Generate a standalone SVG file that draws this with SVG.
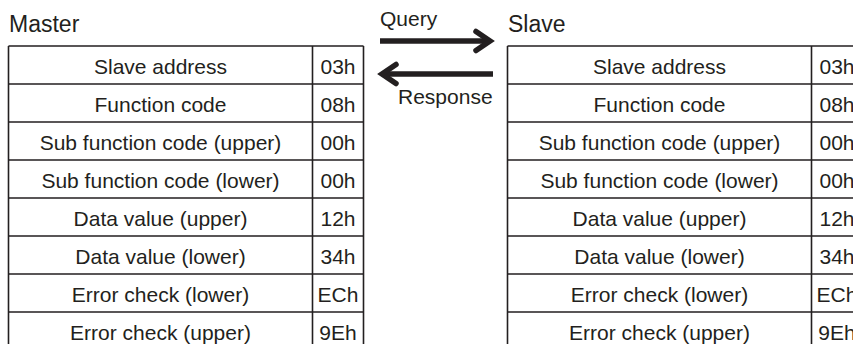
<svg xmlns="http://www.w3.org/2000/svg" width="853" height="344" viewBox="0 0 853 344">
<style>
text{font-family:"Liberation Sans",Arial,sans-serif;fill:#231f20}
.h{font-size:23px}
.c{font-size:21px;text-anchor:middle}
.l{font-size:21px}
.grid{stroke:#231f20;stroke-width:1.6;fill:none}
.arr{stroke:#231f20;stroke-width:5.5;fill:none}
</style>
<defs>
<marker id="chev" markerUnits="userSpaceOnUse" markerWidth="40" markerHeight="40" viewBox="-25 -20 40 40" refX="0" refY="0" orient="auto" overflow="visible">
<path d="M-14,-9.5 L0,0 L-14,9.5" stroke="#231f20" stroke-width="5.5" fill="none" stroke-linecap="round" stroke-linejoin="miter"/>
</marker>
</defs>
<rect width="853" height="344" fill="#fff"/>
<g id="master">
<text class="h" x="9" y="31.5">Master</text>
<path class="grid" d="M8.5,46 H363.5 M8.5,84 H363.5 M8.5,122 H363.5 M8.5,160 H363.5 M8.5,198 H363.5 M8.5,236 H363.5 M8.5,274 H363.5 M8.5,312 H363.5 M8.5,46 V344 M312.5,46 V344 M363.5,46 V344"/>
<text class="c" x="160.5" y="74">Slave address</text>
<text class="c" x="160.5" y="112">Function code</text>
<text class="c" x="160.5" y="150">Sub function code (upper)</text>
<text class="c" x="160.5" y="188">Sub function code (lower)</text>
<text class="c" x="160.5" y="226">Data value (upper)</text>
<text class="c" x="160.5" y="264">Data value (lower)</text>
<text class="c" x="160.5" y="302">Error check (lower)</text>
<text class="c" x="160.5" y="340">Error check (upper)</text>
<text class="c" x="338" y="74">03h</text>
<text class="c" x="338" y="112">08h</text>
<text class="c" x="338" y="150">00h</text>
<text class="c" x="338" y="188">00h</text>
<text class="c" x="338" y="226">12h</text>
<text class="c" x="338" y="264">34h</text>
<text class="c" x="338" y="302">ECh</text>
<text class="c" x="338" y="340">9Eh</text>
</g>
<g id="slave">
<text class="h" x="508" y="31.5">Slave</text>
<path class="grid" d="M507.5,46 H862.5 M507.5,84 H862.5 M507.5,122 H862.5 M507.5,160 H862.5 M507.5,198 H862.5 M507.5,236 H862.5 M507.5,274 H862.5 M507.5,312 H862.5 M507.5,46 V344 M811.5,46 V344 M862.5,46 V344"/>
<text class="c" x="659.5" y="74">Slave address</text>
<text class="c" x="659.5" y="112">Function code</text>
<text class="c" x="659.5" y="150">Sub function code (upper)</text>
<text class="c" x="659.5" y="188">Sub function code (lower)</text>
<text class="c" x="659.5" y="226">Data value (upper)</text>
<text class="c" x="659.5" y="264">Data value (lower)</text>
<text class="c" x="659.5" y="302">Error check (lower)</text>
<text class="c" x="659.5" y="340">Error check (upper)</text>
<text class="c" x="837" y="74">03h</text>
<text class="c" x="837" y="112">08h</text>
<text class="c" x="837" y="150">00h</text>
<text class="c" x="837" y="188">00h</text>
<text class="c" x="837" y="226">12h</text>
<text class="c" x="837" y="264">34h</text>
<text class="c" x="837" y="302">ECh</text>
<text class="c" x="837" y="340">9Eh</text>
</g>
<g id="connectors">
<path class="arr" d="M380,41 H490" marker-end="url(#chev)"/>
<path class="arr" d="M493,74 H382" marker-end="url(#chev)"/>
<text class="l" x="380" y="26">Query</text>
<text class="l" x="398" y="104">Response</text>
</g>
</svg>
